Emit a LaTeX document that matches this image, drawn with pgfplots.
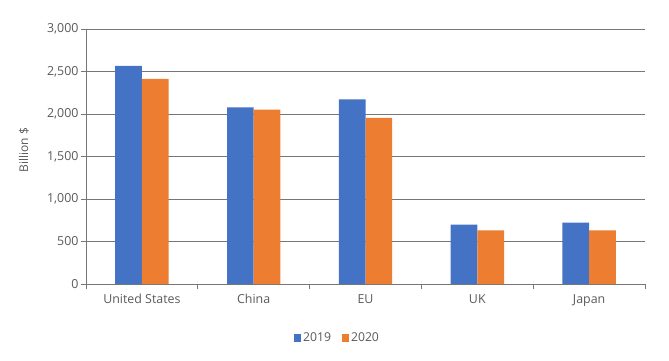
\documentclass[border=0pt]{standalone}
\usepackage{fontspec}
\setmainfont{Open Sans}
\usepackage{pgfplots}
\pgfplotsset{compat=1.18}
\definecolor{cblue}{HTML}{4472C4}
\definecolor{corange}{HTML}{ED7D31}
\definecolor{txt}{HTML}{595959}
\definecolor{grid}{HTML}{767676}
\begin{document}
\begin{tikzpicture}
\path[use as bounding box] (0pt,0pt) rectangle (669pt,360pt);
\begin{axis}[
  at={(86pt,76pt)}, anchor=south west,
  scale only axis, width=559pt, height=255pt,
  ybar=0pt, bar width=26.7pt,
  xmin=-0.5, xmax=4.5, ymin=0, ymax=3000,
  ytick={0,500,...,3000},
  xtick={0,1,2,3,4},
  xticklabels={United States,China,EU,UK,Japan},
  minor xtick={-0.5,0.5,1.5,2.5,3.5,4.5},
  major x tick style={draw=none},
  minor x tick style={draw=grid, line width=0.8pt},
  minor tick length=5pt,
  tick align=outside,
  y tick style={draw=grid, line width=0.8pt},
  major tick length=5pt,
  ymajorgrids,
  grid style={draw=grid, line width=0.8pt},
  axis line style={draw=grid, line width=0.8pt},
  axis x line*=bottom, axis y line*=left,
  separate axis lines,
  ticklabel style={font=\fontsize{12.4}{14}\selectfont, text=txt},
  xticklabel style={yshift=-2pt},
  yticklabel style={xshift=1pt},
  /pgf/number format/.cd, 1000 sep={,}, assume math mode=true, /pgfplots/.cd,
  ylabel={Billion \$},
  ylabel style={at={(axis description cs:-0.111,0.525)}, anchor=center, font=\fontsize{12}{14}\selectfont, text=txt},
  legend style={at={(axis description cs:0.45,-0.212)}, anchor=center, draw=none,
    legend columns=2, font=\fontsize{12.2}{14}\selectfont, text=txt,
    /tikz/every even column/.append style={column sep=9pt}},
  legend image code/.code={\fill[#1] (0pt,-3.7pt) rectangle (7pt,3.7pt);},
  enlarge x limits=false,
  clip=false,
]
\addplot[fill=cblue, draw=none] coordinates {(0,2565) (1,2079) (2,2173) (3,698) (4,722)};
\addplot[fill=corange, draw=none] coordinates {(0,2412) (1,2051) (2,1953) (3,631) (4,631)};
\legend{2019,2020}
\end{axis}
\end{tikzpicture}
\end{document}
